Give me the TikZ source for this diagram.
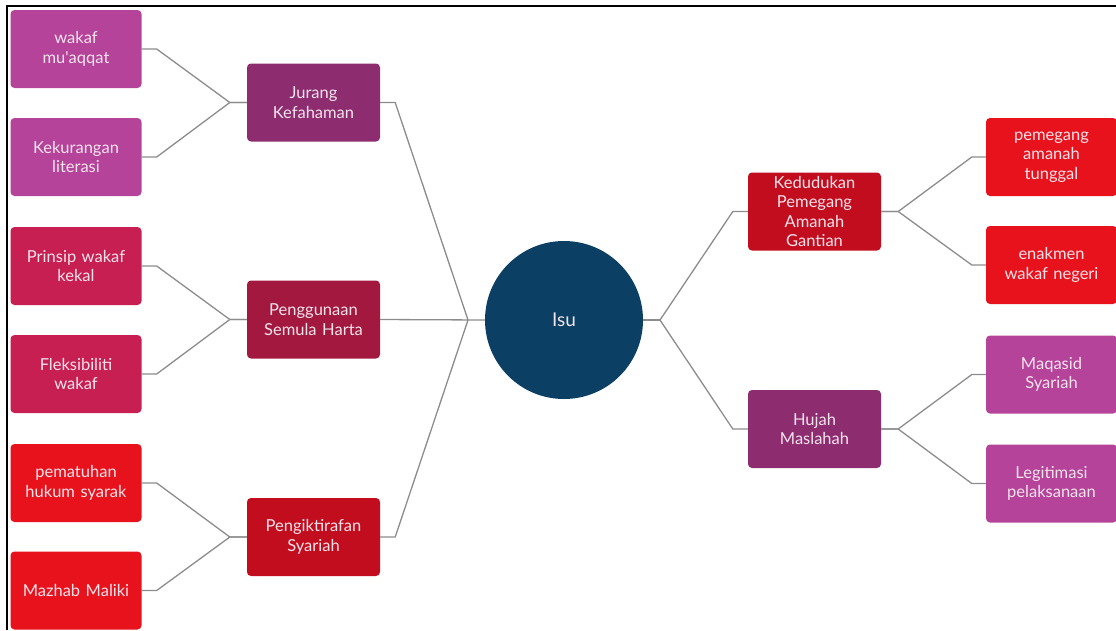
\documentclass[tikz,border=0pt]{standalone}
\usepackage{fontspec}
\setmainfont{Lato}
\usepackage{tikz}
\usetikzlibrary{positioning}
\definecolor{isublue}{HTML}{0B3F64}
\definecolor{plum}{HTML}{8E2C70}
\definecolor{orchid}{HTML}{B5439A}
\definecolor{crimson}{HTML}{C81F52}
\definecolor{wine}{HTML}{A3183F}
\definecolor{redbright}{HTML}{E8121C}
\definecolor{reddark}{HTML}{C20D1E}
\definecolor{linkgray}{HTML}{8C8C8C}
\definecolor{paletext}{HTML}{F4E4EC}
\tikzstyle{topic}=[rectangle, rounded corners=4pt, align=center, text=paletext,
  font=\fontsize{16.5}{19.5}\selectfont, inner sep=2pt]
\tikzstyle{branch}=[topic, minimum width=133pt, minimum height=78pt, text width=129pt]
\tikzstyle{leaf}=[topic, minimum width=131pt, minimum height=78pt, text width=127pt]
\tikzstyle{link}=[draw=linkgray, line width=1.3pt]

\begin{document}
\begin{tikzpicture}[x=1pt, y=-1pt]
        \useasboundingbox (0,0) rectangle (1116,630);
        \draw[line width=2pt] (7,630) -- (7,6) -- (1116,6);
        % centre
        \node[circle, fill=isublue, minimum size=158pt, text=paletext,
              font=\fontsize{19}{22}\selectfont] (isu) at (564,320) {Isu};
        % left branches
        \node[branch, fill=plum] (jurang) at (313.5,102.5) {Jurang\\Kefahaman};
        \node[branch, fill=wine] (guna) at (313.5,319.5) {Penggunaan\\Semula Harta};
        \node[branch, fill=reddark] (iktiraf) at (313.5,537) {Pengiktirafan\\Syariah};
        \node[leaf, fill=orchid] (muaqqat) at (76,49) {wakaf\\mu\textquotesingle aqqat};
        \node[leaf, fill=orchid] (literasi) at (76,157) {Kekurangan\\literasi};
        \node[leaf, fill=crimson] (kekal) at (76,266) {Prinsip wakaf\\kekal};
        \node[leaf, fill=crimson] (fleksi) at (76,374) {Fleksibiliti\\wakaf};
        \node[leaf, fill=redbright] (pematuhan) at (76,483) {pematuhan\\hukum syarak};
        \node[leaf, fill=redbright] (maliki) at (76,590.5) {Mazhab Maliki};
        % right branches
        \node[branch, fill=reddark] (kedudukan) at (814.5,211.5) {Kedudukan\\Pemegang\\Amanah\\Gantian};
        \node[branch, fill=plum] (hujah) at (814.5,429) {Hujah\\Maslahah};
        \node[leaf, minimum width=129pt, fill=redbright] (tunggal) at (1051.5,157) {pemegang\\amanah\\tunggal};
        \node[leaf, minimum width=129pt, fill=redbright] (enakmen) at (1051.5,265) {enakmen\\wakaf negeri};
        \node[leaf, minimum width=129pt, fill=orchid] (maqasid) at (1051.5,374.5) {Maqasid\\Syariah};
        \node[leaf, minimum width=129pt, fill=orchid] (legit) at (1051.5,483.5) {Legitimasi\\pelaksanaan};
        % junctions
        \coordinate (jl) at (468,320);
        \coordinate (jr) at (660,320);
        \draw[link] (guna.east) -- (isu.west);
        \draw[link] (isu.east) -- (jr);
        \foreach \b in {jurang, iktiraf}
            \draw[link] (\b.east) -- ++(15,0) -- (jl);
        \foreach \b in {kedudukan, hujah}
            \draw[link] (jr) -- ([xshift=-15pt]\b.west) -- (\b.west);
        \foreach \a/\b in {muaqqat/jurang, literasi/jurang, kekal/guna, fleksi/guna, pematuhan/iktiraf, maliki/iktiraf}
            \draw[link] (\a.east) -- ++(15,0) -- ([xshift=-17pt]\b.west) -- (\b.west);
        \foreach \a/\b in {tunggal/kedudukan, enakmen/kedudukan, maqasid/hujah, legit/hujah}
            \draw[link] (\b.east) -- ++(17,0) -- ([xshift=-14pt]\a.west) -- (\a.west);
    \end{tikzpicture}
\end{document}
